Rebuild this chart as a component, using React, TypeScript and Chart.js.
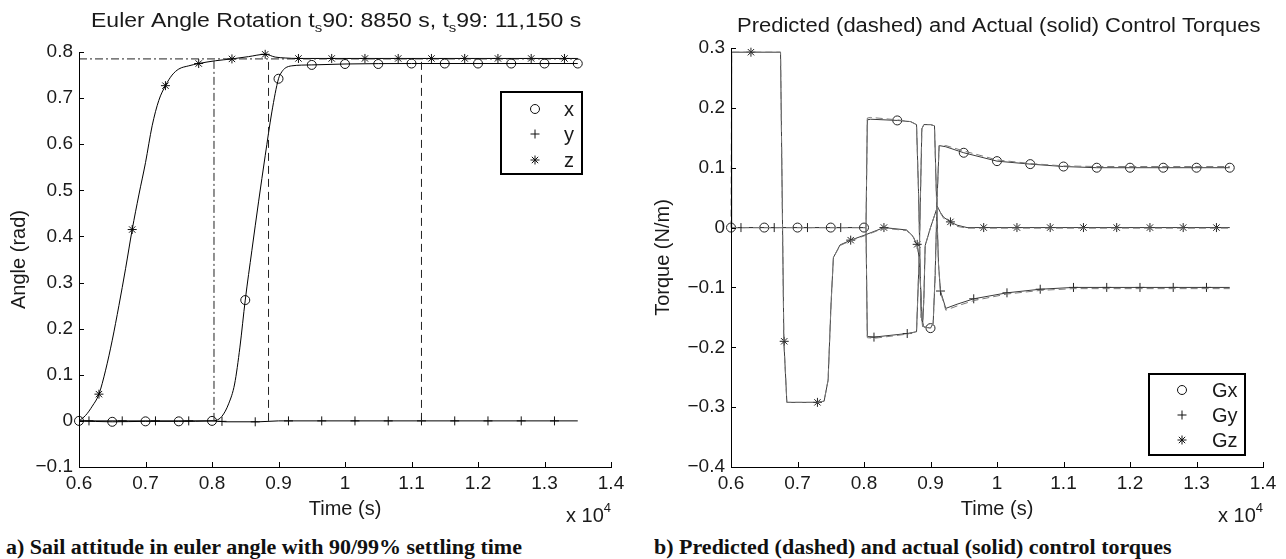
import React, { useEffect, useRef } from "react";
import { Chart, registerables } from "chart.js";

Chart.register(...registerables);

const SANS = "'Liberation Sans', Arial, Helvetica, sans-serif";
const SERIF = "'Liberation Serif', 'Times New Roman', serif";

// ---------------- Left chart: Euler angles (time s, angle rad) ----------------
const xAngT = [6000, 6500, 7000, 7500, 8000, 8060, 8150, 8250, 8340, 8420, 8500, 8600, 8700, 8800, 8900, 9000, 9050, 9100, 9200, 9500, 10000, 11000, 13500];
const xAngV = [0, -0.002, -0.001, -0.001, 0, 0.001, 0.01, 0.037, 0.08, 0.16, 0.262, 0.37, 0.475, 0.575, 0.67, 0.742, 0.757, 0.765, 0.77, 0.772, 0.774, 0.775, 0.775];
const yAngT = [6000, 8000, 8200, 8700, 9000, 13500];
const yAngV = [0, 0, -0.002, -0.002, 0, 0];
const zAngT = [6000, 6100, 6200, 6300, 6400, 6500, 6600, 6700, 6800, 6900, 7000, 7100, 7200, 7300, 7400, 7500, 7650, 7800, 8050, 8300, 8550, 8800, 8950, 9100, 9300, 13500];
const zAngV = [0, 0.012, 0.032, 0.058, 0.11, 0.175, 0.25, 0.33, 0.415, 0.49, 0.56, 0.64, 0.695, 0.727, 0.75, 0.763, 0.77, 0.775, 0.781, 0.785, 0.79, 0.795, 0.789, 0.787, 0.786, 0.786];

const xMarkT = [6000, 6500, 7000, 7500, 8000, 8500, 9000, 9500, 10000, 10500, 11000, 11500, 12000, 12500, 13000, 13500];
const xMarkV = [0, -0.002, -0.001, -0.001, 0, 0.262, 0.742, 0.772, 0.774, 0.774, 0.775, 0.775, 0.775, 0.775, 0.775, 0.775];
const yMarkT = [6150, 6650, 7150, 7650, 8150, 8650, 9150, 9650, 10150, 10650, 11150, 11650, 12150, 12650, 13150];
const yMarkV = [0, 0, 0, 0, -0.001, -0.002, 0, 0, 0, 0, 0, 0, 0, 0, 0];
const zMarkT = [6300, 6800, 7300, 7800, 8300, 8800, 9300, 9800, 10300, 10800, 11300, 11800, 12300, 12800, 13300];
const zMarkV = [0.058, 0.415, 0.727, 0.775, 0.785, 0.795, 0.786, 0.786, 0.786, 0.786, 0.786, 0.786, 0.786, 0.786, 0.786];

const targetT = [6000, 13500];
const targetV = [0.785, 0.785];
const zSettleT = [8030, 8030];
const zSettleV = [0, 0.785];
const ts90T = [8850, 8850];
const ts90V = [0, 0.785];
const ts99T = [11150, 11150];
const ts99V = [0, 0.78];

// ---------------- Right chart: control torques (time s, torque N/m) ----------------
const gxT = [6000, 6500, 7000, 7500, 8000, 8030, 8050, 8100, 8500, 8700, 8790, 8820, 8860, 8900, 9000, 9040, 9070, 9100, 9130, 9230, 9500, 10000, 10500, 11000, 11500, 12000, 13500];
const gxAct = [0, 0, 0, 0, 0, 0, 0.18, 0.181, 0.179, 0.177, 0.172, 0.06, -0.15, -0.166, -0.168, -0.16, -0.08, 0.05, 0.137, 0.135, 0.125, 0.111, 0.106, 0.102, 0.1, 0.1, 0.1];
const gxPred = [0, 0, 0, 0, 0, 0, 0.183, 0.184, 0.18, 0.177, 0.172, 0.06, -0.15, -0.166, -0.168, -0.16, -0.08, 0.05, 0.137, 0.137, 0.128, 0.113, 0.107, 0.103, 0.102, 0.102, 0.102];

const gyT = [6000, 7000, 8000, 8030, 8050, 8150, 8650, 8790, 8830, 8870, 8900, 9000, 9060, 9090, 9120, 9150, 9230, 9400, 9650, 10150, 10650, 11150, 11650, 12150, 13500];
const gyAct = [0, 0, 0, 0, -0.182, -0.183, -0.177, -0.174, -0.05, 0.165, 0.172, 0.172, 0.17, 0.05, -0.06, -0.106, -0.135, -0.128, -0.119, -0.109, -0.103, -0.1, -0.1, -0.1, -0.1];
const gyPred = [0, 0, 0, 0, -0.184, -0.185, -0.178, -0.174, -0.05, 0.165, 0.172, 0.172, 0.17, 0.05, -0.06, -0.108, -0.138, -0.131, -0.122, -0.111, -0.105, -0.102, -0.102, -0.102, -0.102];

const gzT = [6000, 6010, 6300, 6745, 6795, 6840, 7300, 7400, 7460, 7505, 7540, 7640, 7800, 8000, 8300, 8640, 8740, 8800, 8830, 8860, 8880, 8900, 8920, 9000, 9060, 9105, 9150, 9200, 9300, 9400, 9550, 13500];
const gzAct = [0, 0.293, 0.293, 0.293, -0.19, -0.292, -0.292, -0.29, -0.255, -0.126, -0.05, -0.029, -0.021, -0.013, 0, -0.004, -0.015, -0.03, -0.05, -0.12, -0.165, -0.12, -0.03, 0, 0.02, 0.035, 0.025, 0.017, 0.0095, 0.004, 0, 0];
const gzPred = [0, 0.293, 0.293, 0.293, -0.19, -0.292, -0.292, -0.29, -0.255, -0.126, -0.05, -0.03, -0.022, -0.014, -0.001, -0.005, -0.016, -0.03, -0.05, -0.12, -0.165, -0.12, -0.03, 0, 0.02, 0.034, 0.024, 0.015, 0.007, 0.002, -0.001, -0.001];

const gxMarkT = [6000, 6500, 7000, 7500, 8000, 8500, 9000, 9500, 10000, 10500, 11000, 11500, 12000, 12500, 13000, 13500];
const gxMarkV = [0, 0, 0, 0, 0, 0.179, -0.168, 0.125, 0.111, 0.106, 0.102, 0.1, 0.1, 0.1, 0.1, 0.1];
const gyMarkT = [6150, 6650, 7150, 7650, 8150, 8650, 9150, 9650, 10150, 10650, 11150, 11650, 12150, 12650, 13150];
const gyMarkV = [0, 0, 0, 0, -0.183, -0.177, -0.106, -0.119, -0.109, -0.103, -0.1, -0.1, -0.1, -0.1, -0.1];
const gzMarkT = [6300, 6800, 7300, 7800, 8300, 8800, 9300, 9800, 10300, 10800, 11300, 11800, 12300, 12800, 13300];
const gzMarkV = [0.293, -0.19, -0.292, -0.021, 0, -0.028, 0.0095, 0, 0, 0, 0, 0, 0, 0, 0];

// ---------------- helpers ----------------
const pts = (t: number[], v: number[]) => t.map((x, i) => ({ x, y: v[i] }));

const lineDs = (t: number[], v: number[], color: string, dash: number[] = [], smooth = false) => ({
  data: pts(t, v),
  showLine: true,
  borderColor: color,
  borderWidth: 1,
  borderDash: dash,
  pointRadius: 0,
  fill: false,
  tension: 0,
  cubicInterpolationMode: smooth ? "monotone" : "default",
  clip: false,
});

const markDs = (t: number[], v: number[], style: string, r: number, color: string) => ({
  data: pts(t, v),
  showLine: false,
  pointStyle: style,
  pointRadius: r,
  pointBorderColor: color,
  pointBackgroundColor: "rgba(0,0,0,0)",
  pointBorderWidth: 1,
  clip: false,
});

function drawMarker(ctx: CanvasRenderingContext2D, style: string, x: number, y: number, r: number) {
  ctx.beginPath();
  if (style === "circle") {
    ctx.arc(x, y, r, 0, Math.PI * 2);
  } else if (style === "cross") {
    ctx.moveTo(x - r, y); ctx.lineTo(x + r, y);
    ctx.moveTo(x, y - r); ctx.lineTo(x, y + r);
  } else {
    const d = r * Math.SQRT1_2;
    ctx.moveTo(x - r, y); ctx.lineTo(x + r, y);
    ctx.moveTo(x, y - r); ctx.lineTo(x, y + r);
    ctx.moveTo(x - d, y - d); ctx.lineTo(x + d, y + d);
    ctx.moveTo(x - d, y + d); ctx.lineTo(x + d, y - d);
  }
  ctx.stroke();
}

type Seg = { text: string; sub?: boolean };
type DecorCfg = {
  id: string;
  title: Seg[];
  titleX: number;
  titleBase: number;
  titleScale: number;
  yLabel: string;
  yLabelX: number;
  xLabelBase: number;
  legend: { label: string; style: string }[];
  legendBox: [number, number, number, number];
  legendMarkX: number;
  legendTextX: number;
  legendRows: number[];
};

function decor(cfg: DecorCfg) {
  return {
    id: cfg.id,
    afterDraw(chart: any) {
      const ctx: CanvasRenderingContext2D = chart.ctx;
      const { left, right, top, bottom } = chart.chartArea;
      const xs = chart.scales.x;
      const ys = chart.scales.y;
      ctx.save();
      // axes
      ctx.strokeStyle = "#000";
      ctx.lineWidth = 1;
      ctx.beginPath();
      ctx.moveTo(Math.round(left) + 0.5, Math.round(top));
      ctx.lineTo(Math.round(left) + 0.5, Math.round(bottom) + 0.5);
      ctx.lineTo(Math.round(right) + 1, Math.round(bottom) + 0.5);
      ctx.stroke();
      // inward ticks
      ctx.beginPath();
      xs.ticks.forEach((t: any) => {
        const p = Math.round(xs.getPixelForValue(t.value)) + 0.5;
        ctx.moveTo(p, bottom);
        ctx.lineTo(p, bottom - 5);
      });
      ys.ticks.forEach((t: any) => {
        const p = Math.round(ys.getPixelForValue(t.value)) + 0.5;
        ctx.moveTo(left, p);
        ctx.lineTo(left + 5, p);
      });
      ctx.stroke();

      ctx.fillStyle = "#1a1a1a";
      ctx.textAlign = "left";
      ctx.textBaseline = "alphabetic";
      // title with subscripts
      ctx.save();
      ctx.translate(cfg.titleX, cfg.titleBase);
      ctx.scale(cfg.titleScale, 1);
      let x = 0;
      for (const s of cfg.title) {
        ctx.font = s.sub ? `13px ${SANS}` : `20px ${SANS}`;
        ctx.fillText(s.text, x, s.sub ? 5 : 0);
        x += ctx.measureText(s.text).width;
      }
      ctx.restore();

      // x label
      ctx.font = `20px ${SANS}`;
      ctx.textAlign = "center";
      ctx.fillText("Time (s)", (left + right) / 2, cfg.xLabelBase);

      // exponent "x 10^4"
      ctx.textAlign = "right";
      ctx.font = `13px ${SANS}`;
      const w4 = ctx.measureText("4").width;
      ctx.fillText("4", right, bottom + 45);
      ctx.font = `20px ${SANS}`;
      ctx.fillText("x 10", right - w4, bottom + 55);

      // y label
      ctx.save();
      ctx.translate(cfg.yLabelX, (top + bottom) / 2);
      ctx.rotate(-Math.PI / 2);
      ctx.textAlign = "center";
      ctx.textBaseline = "middle";
      ctx.font = `20px ${SANS}`;
      ctx.fillText(cfg.yLabel, 0, 0);
      ctx.restore();

      // legend
      const [bx, by, bw, bh] = cfg.legendBox;
      ctx.fillStyle = "#fff";
      ctx.fillRect(bx, by, bw, bh);
      ctx.lineWidth = 2;
      ctx.strokeStyle = "#000";
      ctx.strokeRect(bx, by, bw, bh);
      ctx.lineWidth = 1;
      ctx.strokeStyle = "#111";
      ctx.fillStyle = "#1a1a1a";
      ctx.font = `20px ${SANS}`;
      ctx.textAlign = "left";
      ctx.textBaseline = "middle";
      cfg.legend.forEach((e, i) => {
        drawMarker(ctx, e.style, cfg.legendMarkX, cfg.legendRows[i], 4.5);
        ctx.fillText(e.label, cfg.legendTextX, cfg.legendRows[i] + 1);
      });
      ctx.restore();
    },
  };
}

const tickFmtX = (v: any) => String(Math.round(Number(v) / 1000) / 10);
const tickFmtY = (v: any) => {
  const r = Math.round(Number(v) * 10) / 10;
  if (r === 0) return "0";
  return r < 0 ? "\u2212" + String(Math.abs(r)) : String(r);
};

function makeOptions(yMin: number, yMax: number, axisLeft: number, axisBottom: number, top: number, padRight: number, canvasH: number) {
  return {
    animation: false,
    responsive: false,
    maintainAspectRatio: false,
    events: [],
    layout: { padding: { left: 0, top, right: padRight, bottom: 0 } },
    plugins: { legend: { display: false }, tooltip: { enabled: false }, title: { display: false } },
    scales: {
      x: {
        type: "linear",
        min: 6000,
        max: 14000,
        afterFit: (s: any) => { s.height = canvasH - axisBottom; },
        grid: { display: false, drawTicks: false },
        border: { display: false },
        ticks: { stepSize: 1000, autoSkip: false, maxRotation: 0, padding: 5, color: "#1a1a1a", font: { family: SANS, size: 19 }, callback: tickFmtX },
      },
      y: {
        type: "linear",
        min: yMin,
        max: yMax,
        afterFit: (s: any) => { s.width = axisLeft; },
        grid: { display: false, drawTicks: false },
        border: { display: false },
        ticks: { stepSize: 0.1, autoSkip: false, padding: 6, color: "#1a1a1a", font: { family: SANS, size: 19 }, callback: tickFmtY },
      },
    },
  };
}

const CANVAS_H = 530;

export default function App() {
  const leftRef = useRef<HTMLCanvasElement | null>(null);
  const rightRef = useRef<HTMLCanvasElement | null>(null);

  useEffect(() => {
    const black = "#000";
    const refC = "#222";
    const left = new Chart(leftRef.current as HTMLCanvasElement, {
      type: "scatter",
      data: {
        datasets: [
          lineDs(targetT, targetV, refC, [8, 3, 2, 3]),
          lineDs(zSettleT, zSettleV, refC, [8, 3, 2, 3]),
          lineDs(ts90T, ts90V, refC, [8, 5]),
          lineDs(ts99T, ts99V, refC, [8, 5]),
          lineDs(yAngT, yAngV, black),
          lineDs(xAngT, xAngV, black, [], true),
          lineDs(zAngT, zAngV, black, [], true),
          markDs(xMarkT, xMarkV, "circle", 4.5, "#111"),
          markDs(yMarkT, yMarkV, "cross", 4.5, "#111"),
          markDs(zMarkT, zMarkV, "star", 4.5, "#111"),
        ] as any,
      },
      options: makeOptions(-0.1, 0.8, 79, 467, 52, 29, CANVAS_H) as any,
      plugins: [
        decor({
          id: "decorLeft",
          title: [
            { text: "Euler Angle Rotation t" },
            { text: "s", sub: true },
            { text: "90: 8850 s, t" },
            { text: "s", sub: true },
            { text: "99: 11,150 s" },
          ],
          titleX: 91,
          titleBase: 27,
          titleScale: 1.15,
          yLabel: "Angle (rad)",
          yLabelX: 19,
          xLabelBase: 515,
          legend: [
            { label: "x", style: "circle" },
            { label: "y", style: "cross" },
            { label: "z", style: "star" },
          ],
          legendBox: [501, 92, 81, 82],
          legendMarkX: 535,
          legendTextX: 564,
          legendRows: [109, 134, 160],
        }),
      ],
    } as any);

    const solid = "#3a3a3a";
    const dashed = "#7a7a7a";
    const right = new Chart(rightRef.current as HTMLCanvasElement, {
      type: "scatter",
      data: {
        datasets: [
          lineDs(gxT, gxPred, dashed, [7, 4]),
          lineDs(gyT, gyPred, dashed, [7, 4]),
          lineDs(gzT, gzPred, dashed, [7, 4]),
          lineDs(gxT, gxAct, solid),
          lineDs(gyT, gyAct, solid),
          lineDs(gzT, gzAct, solid),
          markDs(gxMarkT, gxMarkV, "circle", 4.5, "#222"),
          markDs(gyMarkT, gyMarkV, "cross", 4.5, "#222"),
          markDs(gzMarkT, gzMarkV, "star", 4.5, "#222"),
        ] as any,
      },
      options: makeOptions(-0.4, 0.3, 91, 467, 48, 23, CANVAS_H) as any,
      plugins: [
        decor({
          id: "decorRight",
          title: [{ text: "Predicted (dashed) and Actual (solid) Control Torques" }],
          titleX: 97,
          titleBase: 32,
          titleScale: 1.1,
          yLabel: "Torque (N/m)",
          yLabelX: 23,
          xLabelBase: 515,
          legend: [
            { label: "Gx", style: "circle" },
            { label: "Gy", style: "cross" },
            { label: "Gz", style: "star" },
          ],
          legendBox: [509, 374, 96, 81],
          legendMarkX: 542,
          legendTextX: 572,
          legendRows: [390, 415, 440],
        }),
      ],
    } as any);

    return () => {
      left.destroy();
      right.destroy();
    };
  }, []);

  const capStyle: React.CSSProperties = {
    position: "absolute",
    top: 537,
    font: `bold 20px ${SERIF}`,
    lineHeight: "20px",
    whiteSpace: "nowrap",
    color: "#111",
    transform: "scaleX(1.1)",
    transformOrigin: "left center",
  };

  return (
    <div style={{ position: "fixed", left: 0, top: 0, width: 1286, height: 559, background: "#fff", overflow: "hidden" }}>
      <canvas ref={leftRef} width={640} height={CANVAS_H} style={{ position: "absolute", left: 0, top: 0, width: 640, height: CANVAS_H }} />
      <canvas ref={rightRef} width={646} height={CANVAS_H} style={{ position: "absolute", left: 640, top: 0, width: 646, height: CANVAS_H }} />
      <div style={{ ...capStyle, left: 6 }}>a) Sail attitude in euler angle with 90/99% settling time</div>
      <div style={{ ...capStyle, left: 654 }}>b) Predicted (dashed) and actual (solid) control torques</div>
    </div>
  );
}
